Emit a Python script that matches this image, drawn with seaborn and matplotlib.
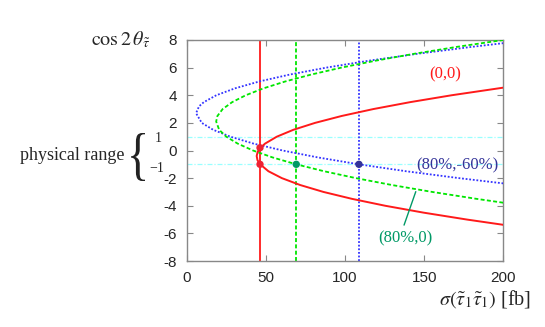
import matplotlib
matplotlib.use("Agg")
import matplotlib.pyplot as plt
import seaborn as sns
import pandas as pd
from matplotlib.textpath import TextPath
from matplotlib.patches import PathPatch
from matplotlib.font_manager import FontProperties
from matplotlib.transforms import Affine2D, IdentityTransform

# ---- data ----
# red (0,0) curve: cos2theta values and corresponding sigma [fb]
red_cos = [-5.38, -5.0, -4.5, -4.0, -3.5, -3.0, -2.5, -2.0, -1.5, -1.0, -0.7, -0.4,
           -0.1, 0.2, 0.5, 1.0, 1.5, 2.0, 2.5, 3.0, 3.5, 4.0, 4.55]
red_sig = [200.0, 177.1, 149.7, 125.4, 104.4, 86.4, 71.7, 60.1, 51.6, 46.4, 44.7, 44.2,
           44.8, 46.6, 49.5, 56.9, 67.4, 81.1, 97.9, 117.9, 141.1, 167.4, 200.0]
# green (80%,0) curve
green_cos = [-3.78, -3.5, -3.0, -2.5, -2.0, -1.5, -1.0, -0.5, 0.0, 0.5, 1.0, 1.5, 2.1,
             2.5, 3.0, 3.5, 4.0, 4.5, 5.0, 5.5, 6.0, 6.5, 7.0, 7.5, 8.0]
green_sig = [200.0, 183.1, 155.1, 129.7, 106.9, 86.7, 69.2, 54.2, 41.9, 32.2, 25.0, 20.5, 18.6,
             19.4, 22.7, 28.7, 37.3, 48.5, 62.3, 78.7, 97.7, 119.3, 143.6, 170.5, 200.0]
# blue (80%,-60%) curve
blue_cos = [-2.38, -2.0, -1.5, -1.0, -0.5, 0.0, 0.5, 1.0, 1.5, 2.0, 2.7, 3.2, 3.5, 4.0,
            4.5, 5.0, 5.5, 6.0, 6.5, 7.0, 7.5, 7.77]
blue_sig = [200.0, 172.0, 138.5, 108.8, 82.8, 60.6, 42.2, 27.6, 16.7, 9.5, 5.9, 7.8, 10.8, 18.7,
            30.5, 45.9, 65.2, 88.2, 115.0, 145.6, 179.9, 200.0]

# measured cross sections (vertical lines)
measured_sig = [46.3, 69.2, 108.8]
# marked points
pts_sig = [46.3, 46.3, 69.2, 108.8]
pts_cos = [0.2, -1.0, -1.0, -1.0]
# physical range bounds
phys_range = [1, -1]

labels = ["(0,0)", "(80%,-60%)", "(80%,0)"]
xticks = [0, 50, 100, 150, 200]
yticks = [-8, -6, -4, -2, 0, 2, 4, 6, 8]

RED = "#ff1a1a"
GREEN = "#00e600"
BLUE = "#3333ff"
DGREEN = "#009966"
DBLUE = "#333399"

sns.set_theme(style="ticks")
plt.rcParams["axes.unicode_minus"] = False
plt.rcParams["font.family"] = ["Liberation Sans", "DejaVu Sans"]
plt.rcParams["mathtext.fontset"] = "stix"

fig = plt.figure(figsize=(5.45, 3.27), dpi=100)
ax = fig.add_axes([0.3426, 0.2018, 0.5809, 0.6759])

# physical range lines
for v in phys_range:
    ax.axhline(v, color="#99ffff", lw=0.9, ls=(0, (4, 1.5, 1, 1.5)), zorder=1)

# vertical measurement lines
ax.axvline(measured_sig[0], color=RED, lw=1.3, zorder=2)
ax.axvline(measured_sig[1], color=GREEN, lw=1.3, ls=(0, (2.2, 1.3)), zorder=2)
ax.axvline(measured_sig[2], color=BLUE, lw=1.3, ls=(0, (1, 1)), zorder=2)

df_r = pd.DataFrame({"sig": red_sig, "cos": red_cos})
df_g = pd.DataFrame({"sig": green_sig, "cos": green_cos})
df_b = pd.DataFrame({"sig": blue_sig, "cos": blue_cos})

sns.lineplot(data=df_b, x="sig", y="cos", sort=False, estimator=None, ax=ax,
             color=BLUE, lw=1.3, ls=(0, (1, 1)), zorder=3)
sns.lineplot(data=df_g, x="sig", y="cos", sort=False, estimator=None, ax=ax,
             color=GREEN, lw=1.3, ls=(0, (2.2, 1.3)), zorder=3)
sns.lineplot(data=df_r, x="sig", y="cos", sort=False, estimator=None, ax=ax,
             color=RED, lw=1.4, zorder=4)

sns.scatterplot(x=pts_sig, y=pts_cos, ax=ax, hue=["r", "r", "g", "b"],
                palette={"r": "#ee2233", "g": DGREEN, "b": DBLUE},
                s=28, linewidth=0, legend=False, zorder=5)

ax.set_xlim(0, 200)
ax.set_ylim(-8, 8)
ax.set_xticks(xticks)
ax.set_yticks(yticks)
ax.set_xticklabels([str(t) for t in xticks], fontsize=11)
ax.set_yticklabels([str(t) for t in yticks], fontsize=11)
ax.tick_params(direction="in", length=4, width=0.8, color="#888888",
               top=True, right=True, pad=7)
for s in ax.spines.values():
    s.set_color("#888888")
    s.set_linewidth(1.0)
ax.set_xlabel("")
ax.set_ylabel("")

serif = ["Liberation Serif", "DejaVu Serif"]
ax.text(163, 5.5, labels[0], color=RED, fontsize=12, family=serif, ha="center", va="center")
ax.text(171, -1.05, labels[1], color=DBLUE, fontsize=12, family=serif, ha="center", va="center")
ax.text(138, -6.35, labels[2], color=DGREEN, fontsize=12, family=serif, ha="center", va="center")
ax.plot([137.3, 144.7], [-5.4, -2.98], color=DGREEN, lw=1.0, zorder=6)

# axis labels
fig.text(150 / 545, 1 - 40 / 327, r"$\cos 2\,\theta_{\tilde{\tau}}$", fontsize=14.5,
         ha="right", va="center")
fig.text(531 / 545, 1 - 299 / 327, r"$\sigma(\tilde{\tau}_1\tilde{\tau}_1)$ [fb]",
         fontsize=14.5, ha="right", va="center", family=serif)

# physical range annotation
fig.text(20 / 545, 1 - 155 / 327, "physical range", fontsize=13, family=serif,
         ha="left", va="center")
# thin, tall brace (glyph stretched vertically)
tp = TextPath((0, 0), "{", size=20, prop=FontProperties(family="Liberation Serif"))
ext = tp.get_extents()
H = fig.get_figheight() * fig.dpi
bx0, bx1, by_top, by_bot = 131, 145, 133, 181
tr = (Affine2D().translate(-ext.x0, -ext.y0)
      .scale((bx1 - bx0) / ext.width, (by_bot - by_top) / ext.height)
      .translate(bx0, H - by_bot))
brace = PathPatch(tr.transform_path(tp), facecolor="#222222", edgecolor="none",
                  transform=IdentityTransform())
fig.add_artist(brace)
fig.text(158 / 545, 1 - 138 / 327, str(phys_range[0]), fontsize=10, family=serif,
         ha="center", va="center")
fig.text(157 / 545, 1 - 168 / 327, "\u2212" + str(abs(phys_range[1])), fontsize=10,
         family=serif, ha="center", va="center")

fig.savefig("out.png", dpi=100)
